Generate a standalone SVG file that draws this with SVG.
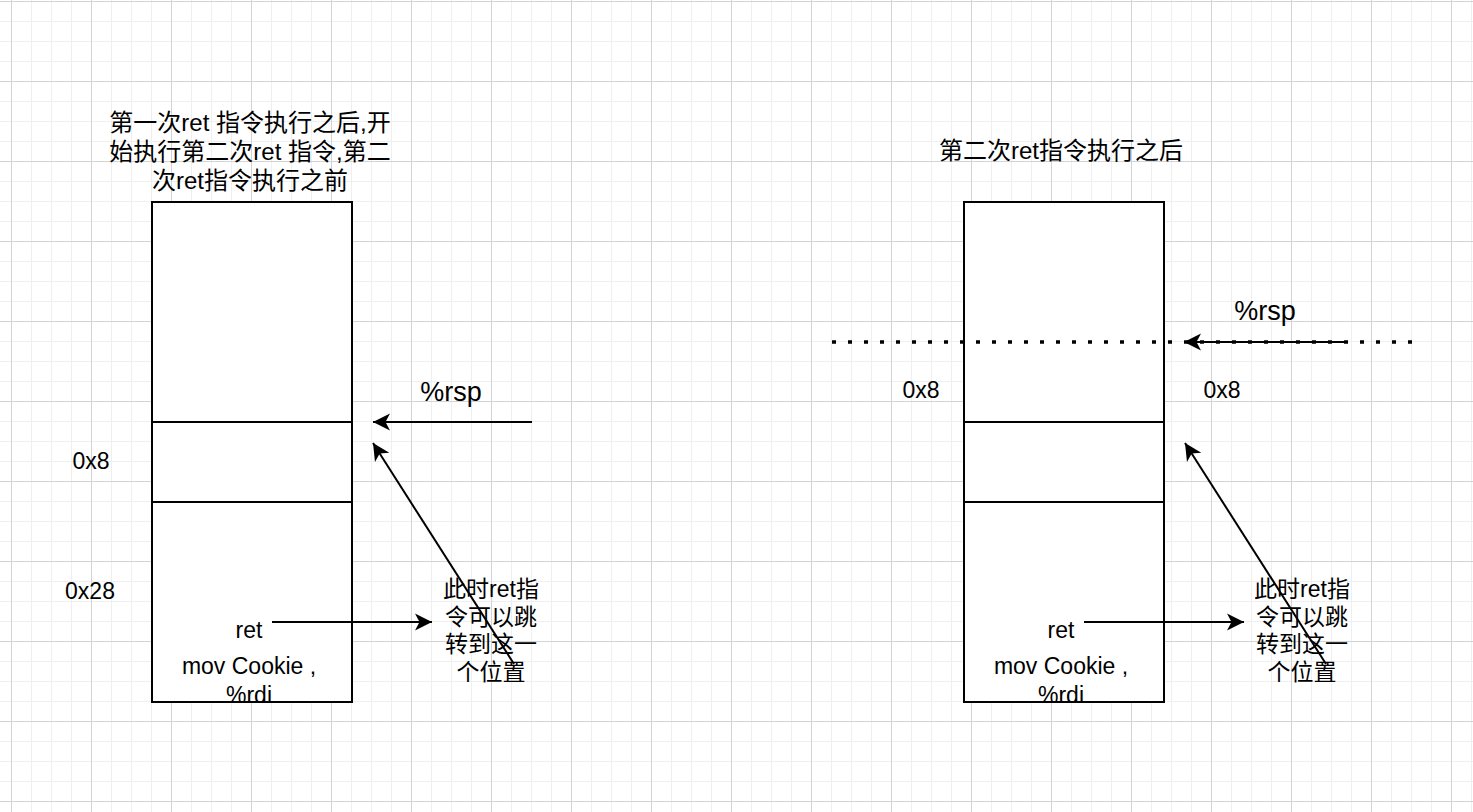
<svg xmlns="http://www.w3.org/2000/svg" width="1473" height="812" viewBox="0 0 1473 812">
<defs>
<pattern id="grid" patternUnits="userSpaceOnUse" x="11" y="1" width="80" height="80">
<path d="M20.5,0V80M40.5,0V80M60.5,0V80M0,20.5H80M0,40.5H80M0,60.5H80" stroke="#efefef" stroke-width="1" fill="none"/>
<path d="M0.5,0V80M0,0.5H80" stroke="#d3d3d3" stroke-width="1" fill="none"/>
</pattern>
<marker id="ah" markerUnits="userSpaceOnUse" markerWidth="20" markerHeight="20" viewBox="-18 -10 20 20" refX="0" refY="0" orient="auto">
<path d="M0,0 L-17,-8.5 L-12.5,0 L-17,8.5 Z" fill="#000"/>
</marker>
<style>
text{font-family:"Liberation Sans","Noto Sans CJK SC",sans-serif;fill:#000;text-anchor:middle}
.t{font-size:24px}
.a{font-size:23px}
.r{font-size:27px}
.box{fill:#fff;stroke:#000;stroke-width:2}
.ln{stroke:#000;stroke-width:2;fill:none}
.arr{stroke:#000;stroke-width:2;fill:none;marker-end:url(#ah)}
</style>
</defs>
<rect width="1473" height="812" fill="#fff"/>
<rect width="1473" height="812" fill="url(#grid)"/>

<g id="left-title">
<text class="t" x="250" y="131">第一次ret 指令执行之后,开</text>
<text class="t" x="250" y="160">始执行第二次ret 指令,第二</text>
<text class="t" x="250" y="189">次ret指令执行之前</text>
</g>
<g id="right-title">
<text class="t" x="1061" y="159">第二次ret指令执行之后</text>
</g>

<g id="left-stack">
<rect class="box" x="152" y="202" width="200" height="500"/>
<line class="ln" x1="152" y1="422" x2="352" y2="422"/>
<line class="ln" x1="152" y1="502" x2="352" y2="502"/>
<text class="a" x="249" y="638">ret</text>
<text class="a" x="249" y="674">mov Cookie ,</text>
<text class="a" x="249" y="703">%rdi</text>
<rect x="151" y="701" width="202" height="2" fill="#000"/>
</g>

<g id="right-stack">
<rect class="box" x="964" y="202" width="200" height="500"/>
<line class="ln" x1="964" y1="422" x2="1164" y2="422"/>
<line class="ln" x1="964" y1="502" x2="1164" y2="502"/>
<text class="a" x="1061" y="638">ret</text>
<text class="a" x="1061" y="674">mov Cookie ,</text>
<text class="a" x="1061" y="703">%rdi</text>
<rect x="963" y="701" width="202" height="2" fill="#000"/>
</g>

<g id="left-labels">
<text class="a" x="91" y="469">0x8</text>
<text class="a" x="90" y="599">0x28</text>
<text class="r" x="451" y="401">%rsp</text>
</g>
<g id="left-note">
<text class="a" x="491" y="597">此时ret指</text>
<text class="a" x="491" y="624.5">令可以跳</text>
<text class="a" x="491" y="652">转到这一</text>
<text class="a" x="491" y="679.5">个位置</text>
</g>

<g id="right-labels">
<text class="a" x="921" y="398">0x8</text>
<text class="a" x="1222" y="398">0x8</text>
<text class="r" x="1265" y="320">%rsp</text>
</g>
<g id="right-note">
<text class="a" x="1302" y="597">此时ret指</text>
<text class="a" x="1302" y="624.5">令可以跳</text>
<text class="a" x="1302" y="652">转到这一</text>
<text class="a" x="1302" y="679.5">个位置</text>
</g>

<g id="connectors">
<line class="arr" x1="532" y1="422" x2="373" y2="422"/>
<line class="arr" x1="514" y1="664" x2="373" y2="443"/>
<line class="arr" x1="272" y1="622" x2="432" y2="622"/>
<line x1="832" y1="342" x2="1412" y2="342" stroke="#000" stroke-width="3.5" stroke-dasharray="4 12"/>
<line class="arr" x1="1345" y1="342" x2="1184" y2="342"/>
<line class="arr" x1="1326" y1="664" x2="1185" y2="443"/>
<line class="arr" x1="1084" y1="622" x2="1244" y2="622"/>
</g>
</svg>
